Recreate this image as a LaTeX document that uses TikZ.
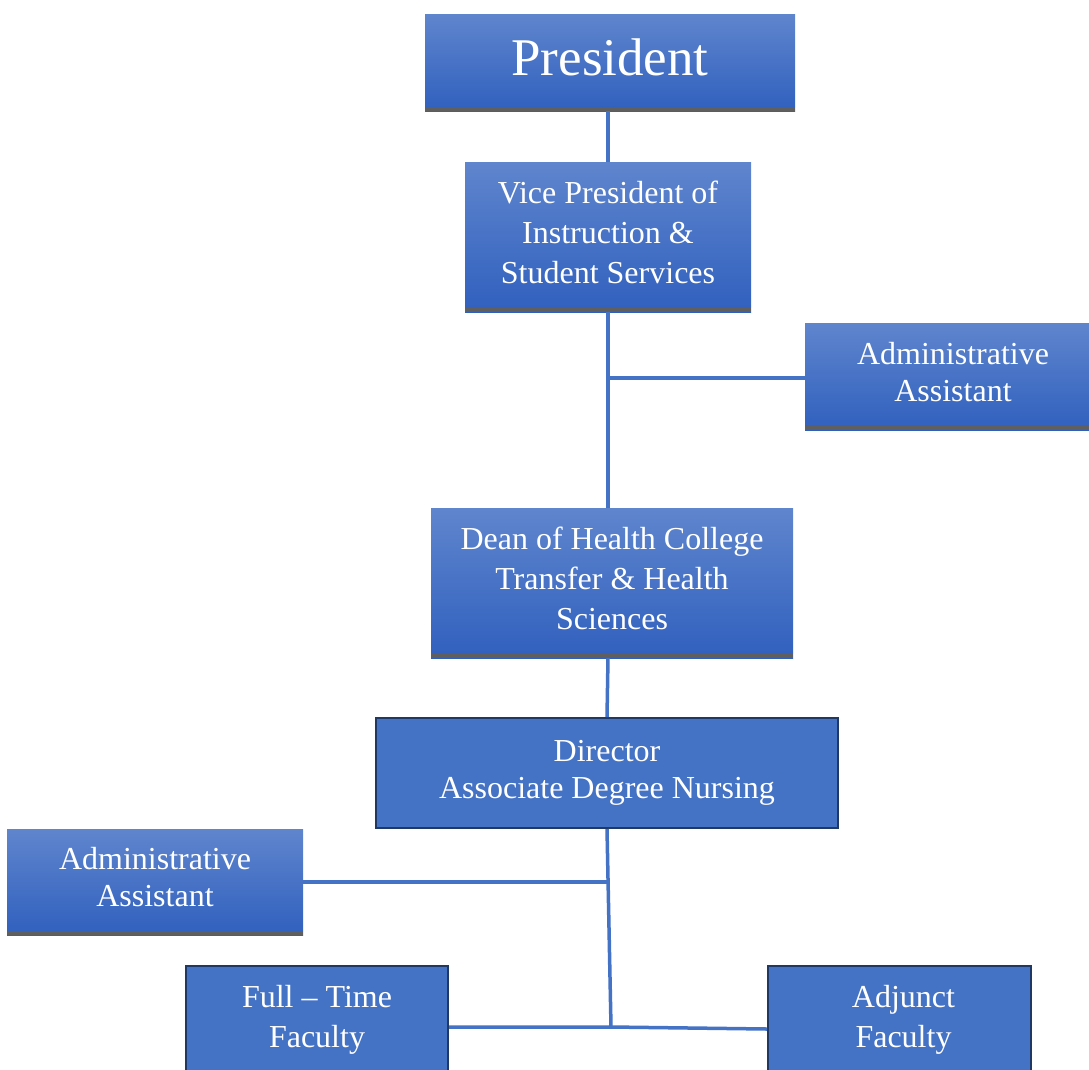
\documentclass[tikz,border=0pt]{standalone}
\usepackage{fontspec}
\setmainfont{Liberation Serif}
\definecolor{chartblue}{HTML}{4472C4}
\definecolor{topblue}{HTML}{5F85CD}
\definecolor{botblue}{HTML}{3060BE}
\definecolor{edgegrey}{HTML}{5F5F5F}
\definecolor{navyline}{HTML}{1F3864}
\tikzset{
	shadedbox/.style={rectangle, top color=topblue, bottom color=botblue, text=white, align=center, inner sep=0pt,
		font=\fontsize{32}{40}\selectfont, text depth=10pt,
		path picture={\fill[edgegrey] (path picture bounding box.south west) rectangle ([yshift=4pt]path picture bounding box.south east);}},
	flatbox/.style={rectangle, draw=navyline, line width=2pt, fill=chartblue, text=white, align=center, inner sep=0pt,
		font=\fontsize{32}{40}\selectfont},
	link/.style={draw=chartblue, line width=3.5pt}
}
\begin{document}
\begin{tikzpicture}[x=1pt, y=-1pt]
		\useasboundingbox (0,0) rectangle (1089,1069);
		\clip (0,0) rectangle (1089,1069);
		% boxes
		\node[shadedbox, minimum width=370pt, minimum height=97pt, font=\fontsize{53}{60}\selectfont] (pres) at (610,62.5) {President};
		\node[shadedbox, minimum width=286pt, minimum height=150pt] (vp) at (608,237) {Vice President of\\Instruction \&\\Student Services};
		\node[shadedbox, minimum width=284pt, minimum height=107pt, font=\fontsize{32}{37}\selectfont] (admR) at (947,376.5) {\hspace*{12pt}Administrative\\\hspace*{12pt}Assistant};
		\node[shadedbox, minimum width=362pt, minimum height=150pt] (dean) at (612,583) {Dean of Health College\\Transfer \& Health\\Sciences};
		\node[flatbox, minimum width=462pt, minimum height=110pt, font=\fontsize{32}{37}\selectfont] (dir) at (607,773) {Director\\Associate Degree Nursing};
		\node[shadedbox, minimum width=296pt, minimum height=106pt, font=\fontsize{32}{37}\selectfont] (admL) at (155,882) {Administrative\\Assistant};
		\node[flatbox, minimum width=262pt, minimum height=108pt] (ft) at (317,1020) {Full -- Time\\Faculty};
		\node[flatbox, minimum width=263pt, minimum height=108pt] (adj) at (899.5,1020) {\hspace*{8pt}Adjunct\\\hspace*{8pt}Faculty};
		% joints
		\coordinate (j1) at (607,378);
		\coordinate (j2) at (607,882);
		\coordinate (j3) at (611,1027);
		% links
		\draw[link] (pres.south -| vp.south) -- (vp.north);
		\draw[link] (vp.south) -- (vp.south |- dean.north);
		\draw[link] (j1) -- (j1 -| admR.west);
		\draw[link] (dean.south -| vp.south) -- (dir.north);
		\draw[link] (dir.south) -- (j3);
		\draw[link] (admL.east) -- (j2);
		\draw[link] (j3 -| ft.east) -- (j3) -- ([yshift=-2pt]j3 -| adj.west);
\end{tikzpicture}
\end{document}
